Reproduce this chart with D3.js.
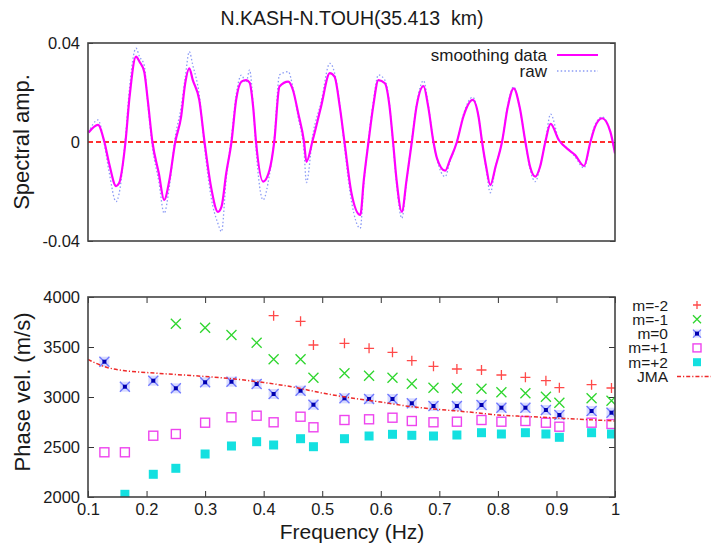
<!DOCTYPE html>
<head>
<meta charset="utf-8">
<script src="https://d3js.org/d3.v7.min.js"></script>
<style>
  body { margin: 0; background: #fff; }
  svg { display: block; font-family: "Liberation Sans", Arial, sans-serif; }
  .tick line { stroke: #333; stroke-width: 1; }
  .tick text { fill: #1a1a1a; }
</style>
</head>
<body>
<svg width="715" height="544"></svg>
<script>
// top panel: spectral amplitude vs frequency
var specFreq = [0.101,0.117,0.128,0.136,0.148,0.153,0.164,0.171,0.182,0.188,0.196,0.202,0.210,0.221,0.230,0.239,0.249,0.259,0.266,0.273,
  0.279,0.290,0.299,0.310,0.322,0.328,0.336,0.345,0.353,0.362,0.370,0.376,0.382,0.387,0.399,0.410,0.418,0.427,0.442,0.450,
  0.459,0.469,0.473,0.484,0.498,0.513,0.521,0.530,0.538,0.550,0.565,0.571,0.579,0.587,0.596,0.607,0.615,0.621,0.627,0.636,
  0.644,0.653,0.661,0.673,0.681,0.690,0.696,0.710,0.718,0.730,0.741,0.757,0.767,0.773,0.780,0.787,0.796,0.807,0.817,0.827,
  0.837,0.847,0.855,0.864,0.872,0.881,0.890,0.904,0.921,0.932,0.947,0.958,0.966,0.978,0.992,1.000]
var smoothAmp = [0.0038,0.0069,0,-0.0086,-0.0178,-0.0167,0,0.0183,0.0345,0.0324,0.0284,0.017,0,-0.0127,-0.0234,-0.0154,0,0.0102,0.0237,0.0298,
  0.025,0.017,0,-0.018,-0.0282,-0.0261,-0.0127,0,0.017,0.0244,0.025,0.024,0.0143,0,-0.016,-0.0113,0,0.0224,0.0244,0.021,
  0.0116,0,-0.008,0.001,0.0143,0.0278,0.0264,0.0143,0,-0.0207,-0.0295,-0.0154,0,0.0143,0.025,0.0237,0.0143,0,-0.0154,-0.0282,
  -0.0154,0,0.0143,0.0226,0.0143,0,-0.0066,-0.0116,-0.0073,0,0.0102,0.017,0.0102,0,-0.01,-0.0174,-0.01,0,0.0143,0.0217,
  0.0143,0,-0.01,-0.014,-0.01,0,0.0073,0.0008,-0.0032,-0.0053,-0.0097,0,0.0062,0.0096,0.0042,-0.0046]
var rawAmp = [0.0040,0.0089,-0.001,-0.012,-0.0241,-0.021,0.002,0.022,0.0379,0.0345,0.031,0.016,-0.002,-0.016,-0.0288,-0.018,0.002,0.014,0.026,0.0365,
  0.031,0.019,-0.002,-0.022,-0.033,-0.0362,-0.015,0.002,0.019,0.027,0.024,0.0291,0.015,-0.003,-0.0234,-0.013,0.001,0.0271,0.0284,0.022,
  0.010,-0.004,-0.0164,0.003,0.016,0.0318,0.028,0.015,-0.002,-0.024,-0.0349,-0.017,0.001,0.016,0.0271,0.025,0.015,-0.001,-0.017,-0.0308,
  -0.016,0.001,0.015,0.0248,0.015,0,-0.007,-0.014,-0.008,0,0.011,0.0181,0.010,0,-0.011,-0.0205,-0.010,0,0.015,0.0223,
  0.014,0,-0.011,-0.016,-0.010,0,0.0113,0.001,-0.003,-0.006,-0.0105,0,0.007,0.0101,0.004,-0.005]
var ampTicks = [-0.04, 0, 0.04]

// bottom panel: phase velocity per mode
var modeFreq = [0.128,0.163,0.2115,0.250,0.300,0.345,0.388,0.417,0.463,0.485,0.538,0.580,0.620,0.653,0.690,0.730,0.772,0.806,0.847,0.882,0.905,0.960,0.994]
var mMinus2 = [null,null,null,null,null,null,null,3813,3757,3520,3537,3487,3447,3363,3307,3280,3270,3220,3197,3163,3093,3123,3090]
var mMinus1 = [null,null,null,3733,3693,3620,3543,3377,3377,3193,3237,3213,3193,3133,3093,3087,3083,3047,3037,3003,2943,2987,2963]
var m0      = [3353,3103,3163,3087,3147,3153,3130,3030,3063,2923,2987,2980,2980,2937,2910,2910,2920,2893,2893,2870,2820,2860,2843]
var mPlus1  = [2447,2447,2613,2630,2743,2797,2813,2747,2803,2697,2770,2777,2793,2760,2747,2753,2770,2753,2760,2743,2703,2743,2730]
var mPlus2  = [null,2027,2227,2287,2430,2510,2553,2520,2583,2503,2583,2610,2627,2617,2610,2620,2643,2630,2643,2630,2597,2643,2630]
var jmaFreq = [0.1,0.13,0.16,0.2,0.25,0.3,0.35,0.4,0.45,0.5,0.55,0.6,0.65,0.7,0.75,0.8,0.85,0.9,0.95,1.0]
var jmaVel  = [3375,3300,3265,3245,3225,3205,3180,3145,3100,3040,2990,2950,2905,2875,2850,2820,2805,2790,2775,2760]
var freqTicks = [0.1,0.2,0.3,0.4,0.5,0.6,0.7,0.8,0.9,1]
var velTicks = [2000,2500,3000,3500,4000]

var svg = d3.select('svg')
var left = 88, right = 615

var x = d3.scaleLinear().domain([0.1, 1]).range([left, right])
var yTop = d3.scaleLinear().domain([-0.04, 0.04]).range([241, 43])
var yBot = d3.scaleLinear().domain([2000, 4000]).range([497, 297])

var defs = svg.append('defs')
defs.append('clipPath').attr('id', 'clipTop').append('rect')
  .attr('x', left).attr('y', 43).attr('width', right - left).attr('height', 198)
defs.append('clipPath').attr('id', 'clipBot').append('rect')
  .attr('x', left).attr('y', 297).attr('width', right - left).attr('height', 200)

// title
svg.append('text').attr('x', 352).attr('y', 25).attr('text-anchor', 'middle')
  .style('font-size', '19.5px').style('white-space', 'pre').attr('fill', '#1a1a1a')
  .text('N.KASH-N.TOUH(35.413  km)')

// ---- top panel
var gTop = svg.append('g')
gTop.append('g').attr('transform', 'translate(' + left + ',0)')
  .call(d3.axisLeft(yTop).tickValues(ampTicks).tickSize(-5).tickPadding(8)
    .tickFormat(function (d) { return d === 0 ? '0' : d.toFixed(2) }))
  .call(function (g) { g.select('.domain').remove() })
  .selectAll('text').style('font-size', '16.5px')
gTop.append('g').attr('transform', 'translate(' + right + ',0)')
  .call(d3.axisRight(yTop).tickValues(ampTicks).tickSize(-5).tickFormat(''))
  .call(function (g) { g.select('.domain').remove() })

var plotTop = gTop.append('g').attr('clip-path', 'url(#clipTop)')
plotTop.append('line')
  .attr('x1', left).attr('x2', right).attr('y1', yTop(0)).attr('y2', yTop(0))
  .attr('stroke', '#ff3030').attr('stroke-width', 1.8).attr('stroke-dasharray', '5,3')

var lineTop = function (vals) {
  return d3.line().x(function (d, i) { return x(specFreq[i]) }).y(function (d) { return yTop(d) })
    .curve(d3.curveMonotoneX)(vals)
}
plotTop.append('path').attr('d', lineTop(rawAmp)).attr('fill', 'none')
  .attr('stroke', '#8c9cf5').attr('stroke-width', 1.3).attr('stroke-dasharray', '1.5,2.2')
plotTop.append('path').attr('d', lineTop(smoothAmp)).attr('fill', 'none')
  .attr('stroke', '#ff00ff').attr('stroke-width', 2.2)

gTop.append('rect').attr('x', left).attr('y', 43).attr('width', right - left).attr('height', 198)
  .attr('fill', 'none').attr('stroke', '#444').attr('stroke-width', 1.6)

gTop.append('text').attr('transform', 'translate(29,142) rotate(-90)').attr('text-anchor', 'middle')
  .style('font-size', '22px').attr('fill', '#1a1a1a').text('Spectral amp.')

// top legend
var topLegend = [
  { label: 'smoothing data', color: '#ff00ff', width: 2.2, dash: null, y: 55 },
  { label: 'raw', color: '#8c9cf5', width: 1.3, dash: '1.5,2.2', y: 71 }
]
topLegend.forEach(function (d) {
  gTop.append('text').attr('x', 547).attr('y', d.y + 5.5).attr('text-anchor', 'end')
    .style('font-size', '17px').attr('fill', '#1a1a1a').text(d.label)
  gTop.append('line').attr('x1', 557).attr('x2', 598).attr('y1', d.y).attr('y2', d.y)
    .attr('stroke', d.color).attr('stroke-width', d.width).attr('stroke-dasharray', d.dash)
})

// ---- bottom panel
var gBot = svg.append('g')
gBot.append('g').attr('transform', 'translate(0,497)')
  .call(d3.axisBottom(x).tickValues(freqTicks).tickSize(-6).tickPadding(6)
    .tickFormat(function (d) { return d === 1 ? '1' : d.toFixed(1) }))
  .call(function (g) { g.select('.domain').remove() })
  .selectAll('text').style('font-size', '16.5px')
gBot.append('g').attr('transform', 'translate(0,297)')
  .call(d3.axisTop(x).tickValues(freqTicks).tickSize(-6).tickFormat(''))
  .call(function (g) { g.select('.domain').remove() })
gBot.append('g').attr('transform', 'translate(' + left + ',0)')
  .call(d3.axisLeft(yBot).tickValues(velTicks).tickSize(-6).tickPadding(8).tickFormat(d3.format('d')))
  .call(function (g) { g.select('.domain').remove() })
  .selectAll('text').style('font-size', '16.5px')
gBot.append('g').attr('transform', 'translate(' + right + ',0)')
  .call(d3.axisRight(yBot).tickValues(velTicks).tickSize(-6).tickFormat(''))
  .call(function (g) { g.select('.domain').remove() })

var plotBot = gBot.append('g').attr('clip-path', 'url(#clipBot)')

// marker drawers
function plus(g, s, c) {
  g.append('path').attr('d', 'M' + (-s) + ',0H' + s + 'M0,' + (-s) + 'V' + s)
    .attr('stroke', c).attr('stroke-width', 1.3).attr('fill', 'none')
}
function cross(g, s, c) {
  g.append('path').attr('d', 'M' + (-s) + ',' + (-s) + 'L' + s + ',' + s + 'M' + (-s) + ',' + s + 'L' + s + ',' + (-s))
    .attr('stroke', c).attr('stroke-width', 1.3).attr('fill', 'none')
}
function star(g, s, c) {
  g.append('rect').attr('x', -s).attr('y', -s).attr('width', 2 * s).attr('height', 2 * s)
    .attr('fill', '#c8ccff').attr('opacity', 0.7)
  cross(g, s, '#6f78ff')
  g.append('rect').attr('x', -2).attr('y', -2).attr('width', 4).attr('height', 4).attr('fill', '#0000b0')
}
function openSq(g, s, c) {
  g.append('rect').attr('x', -s).attr('y', -s).attr('width', 2 * s).attr('height', 2 * s)
    .attr('fill', 'none').attr('stroke', c).attr('stroke-width', 1.4)
}
function fillSq(g, s, c) {
  g.append('rect').attr('x', -s).attr('y', -s).attr('width', 2 * s).attr('height', 2 * s).attr('fill', c)
}

var series = [
  { label: 'm=-2', vals: mMinus2, color: '#ff4a4a', draw: plus, size: 5 },
  { label: 'm=-1', vals: mMinus1, color: '#2fd62f', draw: cross, size: 5 },
  { label: 'm=0', vals: m0, color: '#2020e0', draw: star, size: 5 },
  { label: 'm=+1', vals: mPlus1, color: '#ee44ee', draw: openSq, size: 4.5 },
  { label: 'm=+2', vals: mPlus2, color: '#14e0e0', draw: fillSq, size: 4.5 }
]

series.forEach(function (s) {
  s.vals.forEach(function (v, i) {
    if (v == null) return
    var g = plotBot.append('g').attr('transform', 'translate(' + x(modeFreq[i]) + ',' + yBot(v) + ')')
    s.draw(g, s.size, s.color)
  })
})

var jmaLine = d3.line().x(function (d, i) { return x(jmaFreq[i]) }).y(function (d) { return yBot(d) })
  .curve(d3.curveMonotoneX)
plotBot.append('path').attr('d', jmaLine(jmaVel)).attr('fill', 'none')
  .attr('stroke', '#ee2a2a').attr('stroke-width', 1.5).attr('stroke-dasharray', '4,2,1.2,2')

gBot.append('rect').attr('x', left).attr('y', 297).attr('width', right - left).attr('height', 200)
  .attr('fill', 'none').attr('stroke', '#444').attr('stroke-width', 1.6)

gBot.append('text').attr('transform', 'translate(30,392) rotate(-90)').attr('text-anchor', 'middle')
  .style('font-size', '22px').attr('fill', '#1a1a1a').text('Phase vel. (m/s)')
gBot.append('text').attr('x', 352).attr('y', 539).attr('text-anchor', 'middle')
  .style('font-size', '21px').attr('fill', '#1a1a1a').text('Frequency (Hz)')

// bottom legend
var legY = d3.scaleLinear().domain([0, 5]).range([305, 376.5])
series.forEach(function (s, i) {
  gBot.append('text').attr('x', 668).attr('y', legY(i) + 5.5).attr('text-anchor', 'end')
    .style('font-size', '15.5px').attr('fill', '#1a1a1a').text(s.label)
  var g = gBot.append('g').attr('transform', 'translate(697,' + legY(i) + ')')
  s.draw(g, 4, s.color)
})
gBot.append('text').attr('x', 668).attr('y', legY(5) + 5.5).attr('text-anchor', 'end')
  .style('font-size', '15.5px').attr('fill', '#1a1a1a').text('JMA')
gBot.append('line').attr('x1', 677).attr('x2', 711).attr('y1', legY(5)).attr('y2', legY(5))
  .attr('stroke', '#ee2a2a').attr('stroke-width', 1.5).attr('stroke-dasharray', '4,2,1.2,2')
</script>
</body>
